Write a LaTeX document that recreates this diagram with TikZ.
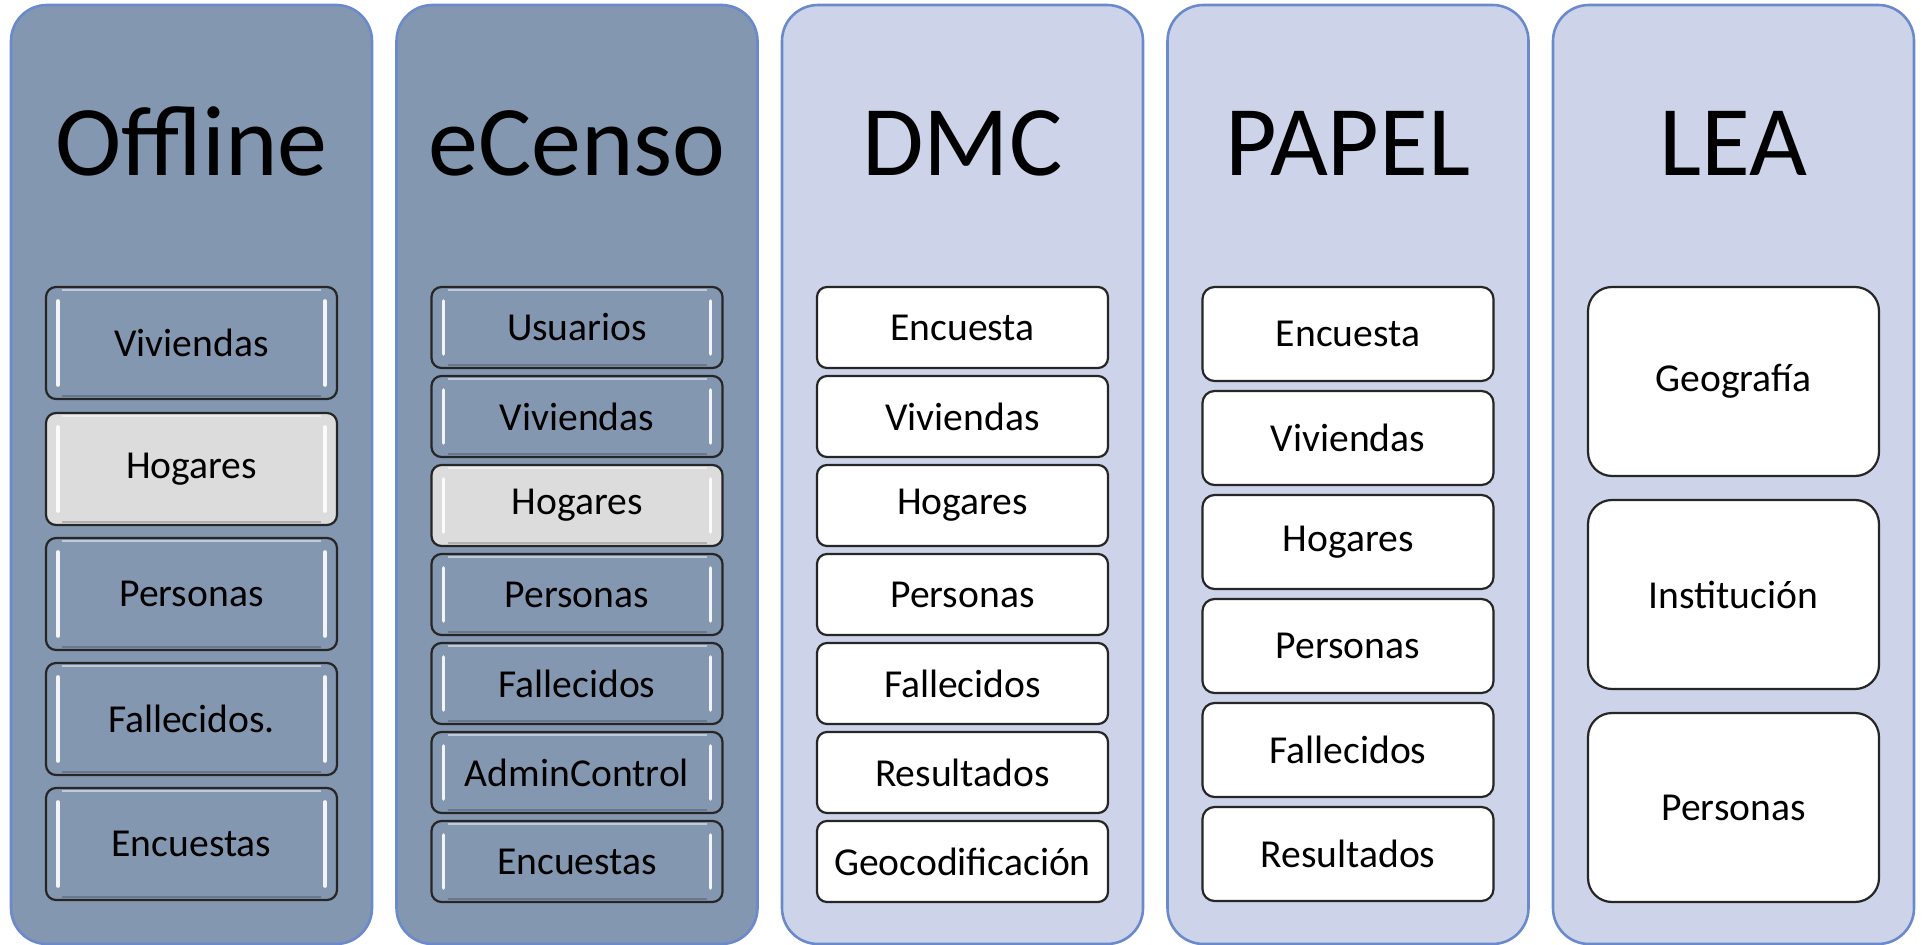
\documentclass[tikz,border=0pt]{standalone}
\usepackage{fontspec}
\setmainfont{Carlito}
\definecolor{darkfill}{HTML}{8497B0}
\definecolor{lightfill}{HTML}{CDD4EA}
\definecolor{colborder}{HTML}{6A8ACB}
\definecolor{greyfill}{HTML}{DCDCDC}
\tikzset{
  colbox/.style={draw=colborder, line width=1.3pt, rounded corners=18pt, minimum width=180.5pt, minimum height=469.5pt, inner sep=0pt},
  darkcol/.style={colbox, fill=darkfill},
  lightcol/.style={colbox, fill=lightfill},
  coltitle/.style={font=\fontsize{50}{60}\selectfont, anchor=base, inner sep=0pt},
  item/.style={draw=black!85, line width=1.1pt, minimum width=145.5pt, font=\fontsize{19.8}{24}\selectfont, inner sep=0pt},
  plainitem/.style={item, fill=white, rounded corners=5pt},
  bevelitem/.style={item, fill=darkfill, rounded corners=5pt,
    path picture={
      \draw[white, line width=1.8pt, opacity=0.9, line cap=round]
        ([xshift=6pt,yshift=-7pt]path picture bounding box.north west) -- ([xshift=6pt,yshift=7pt]path picture bounding box.south west);
      \draw[white, line width=1.8pt, opacity=0.9, line cap=round]
        ([xshift=-6pt,yshift=-7pt]path picture bounding box.north east) -- ([xshift=-6pt,yshift=7pt]path picture bounding box.south east);
      \draw[white, line width=1.4pt, opacity=0.5]
        ([xshift=8pt,yshift=-1.5pt]path picture bounding box.north west) -- ([xshift=-8pt,yshift=-1.5pt]path picture bounding box.north east);
      \draw[black, line width=1pt, opacity=0.2]
        ([xshift=8pt,yshift=1.5pt]path picture bounding box.south west) -- ([xshift=-8pt,yshift=1.5pt]path picture bounding box.south east);
    }},
  greyitem/.style={bevelitem, fill=greyfill},
}
\begin{document}
\begin{tikzpicture}[x=0.5pt, y=-0.5pt]
\useasboundingbox (0,0) rectangle (1926,945);
% columns
\node[darkcol]  (c1) at (191.5,474.5) {};
\node[darkcol]  (c2) at (577,474.5) {};
\node[lightcol] (c3) at (962.5,474.5) {};
\node[lightcol] (c4) at (1348,474.5) {};
\node[lightcol] (c5) at (1733.5,474.5) {};
% titles
\node[coltitle] (t1) at (191.5,176) {Offline};
\node[coltitle] (t2) at (577,176) {eCenso};
\node[coltitle] (t3) at (962.5,176) {DMC};
\node[coltitle] (t4) at (1348,176) {PAPEL};
\node[coltitle] (t5) at (1733.5,176) {LEA};
% Offline
\begin{scope}[every node/.append style={minimum height=56pt}]
\node[bevelitem] (a1) at (191.5,343) {Viviendas};
\node[greyitem]  (a2) at (191.5,469) {Hogares};
\node[bevelitem] (a3) at (191.5,594) {Personas};
\node[bevelitem] (a4) at (191.5,719) {Fallecidos.};
\node[bevelitem] (a5) at (191.5,844) {Encuestas};
\end{scope}
% eCenso
\begin{scope}[every node/.append style={minimum height=40.5pt}]
\node[bevelitem] (b1) at (577,327.5) {Usuarios};
\node[bevelitem] (b2) at (577,416.5) {Viviendas};
\node[greyitem]  (b3) at (577,505.5) {Hogares};
\node[bevelitem] (b4) at (577,594.5) {Personas};
\node[bevelitem] (b5) at (577,683.5) {Fallecidos};
\node[bevelitem] (b6) at (577,772.5) {AdminControl};
\node[bevelitem] (b7) at (577,861.5) {Encuestas};
\end{scope}
% DMC
\begin{scope}[every node/.append style={minimum height=40.5pt}]
\node[plainitem] (d1) at (962.5,327.5) {Encuesta};
\node[plainitem] (d2) at (962.5,416.5) {Viviendas};
\node[plainitem] (d3) at (962.5,505.5) {Hogares};
\node[plainitem] (d4) at (962.5,594.5) {Personas};
\node[plainitem] (d5) at (962.5,683.5) {Fallecidos};
\node[plainitem] (d6) at (962.5,772.5) {Resultados};
\node[plainitem] (d7) at (962.5,861.5) {Geocodificación};
\end{scope}
% PAPEL
\begin{scope}[every node/.append style={minimum height=47pt}]
\node[plainitem, rounded corners=6pt] (p1) at (1348,334) {Encuesta};
\node[plainitem, rounded corners=6pt] (p2) at (1348,438) {Viviendas};
\node[plainitem, rounded corners=6pt] (p3) at (1348,542) {Hogares};
\node[plainitem, rounded corners=6pt] (p4) at (1348,646) {Personas};
\node[plainitem, rounded corners=6pt] (p5) at (1348,750) {Fallecidos};
\node[plainitem, rounded corners=6pt] (p6) at (1348,854) {Resultados};
\end{scope}
% LEA
\begin{scope}[every node/.append style={minimum height=94.5pt}]
\node[plainitem, rounded corners=12pt] (l1) at (1733.5,381.5) {Geografía};
\node[plainitem, rounded corners=12pt] (l2) at (1733.5,594.5) {Institución};
\node[plainitem, rounded corners=12pt] (l3) at (1733.5,807.5) {Personas};
\end{scope}
\end{tikzpicture}
\end{document}
